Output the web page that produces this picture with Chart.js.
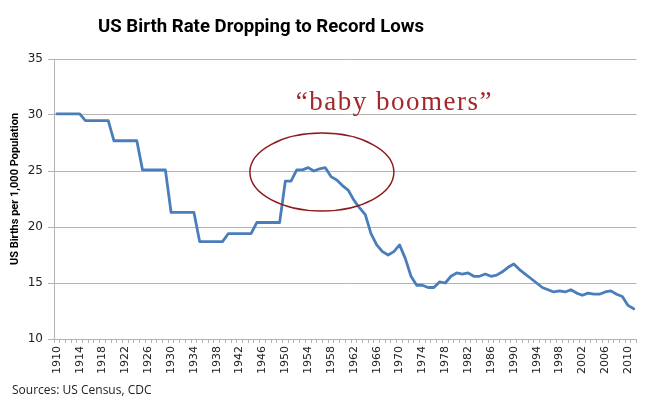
<!DOCTYPE html>
<html lang="en">
<head>
<meta charset="UTF-8">
<title>US Birth Rate Dropping to Record Lows</title>
<script src="https://cdn.jsdelivr.net/npm/chart.js"></script>
<style>
  body { margin: 0; background: #fff; }
  canvas { display: block; }
</style>
</head>
<body>
<canvas id="births" width="650" height="404"></canvas>
<script>
const years = [
  1910, 1911, 1912, 1913, 1914, 1915, 1916, 1917, 1918, 1919,
  1920, 1921, 1922, 1923, 1924, 1925, 1926, 1927, 1928, 1929,
  1930, 1931, 1932, 1933, 1934, 1935, 1936, 1937, 1938, 1939,
  1940, 1941, 1942, 1943, 1944, 1945, 1946, 1947, 1948, 1949,
  1950, 1951, 1952, 1953, 1954, 1955, 1956, 1957, 1958, 1959,
  1960, 1961, 1962, 1963, 1964, 1965, 1966, 1967, 1968, 1969,
  1970, 1971, 1972, 1973, 1974, 1975, 1976, 1977, 1978, 1979,
  1980, 1981, 1982, 1983, 1984, 1985, 1986, 1987, 1988, 1989,
  1990, 1991, 1992, 1993, 1994, 1995, 1996, 1997, 1998, 1999,
  2000, 2001, 2002, 2003, 2004, 2005, 2006, 2007, 2008, 2009,
  2010, 2011
];

// births per 1,000 population
const birthRates = [
  30.1, 30.1, 30.1, 30.1, 30.1, 29.5, 29.5, 29.5, 29.5, 29.5,
  27.7, 27.7, 27.7, 27.7, 27.7, 25.1, 25.1, 25.1, 25.1, 25.1,
  21.3, 21.3, 21.3, 21.3, 21.3, 18.7, 18.7, 18.7, 18.7, 18.7,
  19.4, 19.4, 19.4, 19.4, 19.4, 20.4, 20.4, 20.4, 20.4, 20.4,
  24.1, 24.1, 25.1, 25.1, 25.3, 25.0, 25.2, 25.3, 24.5, 24.2,
  23.7, 23.3, 22.4, 21.7, 21.1, 19.4, 18.4, 17.8, 17.5, 17.8,
  18.4, 17.2, 15.6, 14.8, 14.8, 14.6, 14.6, 15.1, 15.0, 15.6,
  15.9, 15.8, 15.9, 15.6, 15.6, 15.8, 15.6, 15.7, 16.0, 16.4,
  16.7, 16.2, 15.8, 15.4, 15.0, 14.6, 14.4, 14.2, 14.3, 14.2,
  14.4, 14.1, 13.9, 14.1, 14.0, 14.0, 14.2, 14.3, 14.0, 13.8,
  13.0, 12.7
];

const xTickLabels = [
  1910, 1914, 1918, 1922, 1926, 1930, 1934, 1938, 1942, 1946, 1950, 1954, 1958,
  1962, 1966, 1970, 1974, 1978, 1982, 1986, 1990, 1994, 1998, 2002, 2006, 2010
];
const yTickValues = [10, 15, 20, 25, 30, 35];

const titleText = "US Birth Rate Dropping to Record Lows";
const yAxisTitle = "US Births per 1,000 Population";
const sourceText = "Sources: US Census, CDC";
const boomerLabel = "\u201Cbaby boomers\u201D";

// where the annotation sits, in chart units (year, rate)
const boomerCircleAt = { year: 1956.4, value: 24.9 };
const boomerLabelAt = { year: 1969.1, value: 30.45 };

const gridGray = "#b3b3b3";

const annotations = {
    id: "annotations",
    afterDatasetsDraw(chart) {
        const { ctx, scales: { x, y } } = chart;
        const slot = x.getPixelForValue(1) - x.getPixelForValue(0);
        const xAt = yr => x.getPixelForValue(0) + (yr - years[0]) * slot;

        ctx.save();
        // circle round the boom years
        ctx.strokeStyle = "#8e1b1e";
        ctx.lineWidth = 1.5;
        ctx.beginPath();
        ctx.ellipse(xAt(boomerCircleAt.year), y.getPixelForValue(boomerCircleAt.value), 72, 39, 0, 0, Math.PI * 2);
        ctx.stroke();

        ctx.fillStyle = "#a3282b";
        ctx.font = "27px 'Liberation Serif'";
        ctx.letterSpacing = "1.5px";
        ctx.textAlign = "center";
        ctx.textBaseline = "alphabetic";
        ctx.fillText(boomerLabel, xAt(boomerLabelAt.year), y.getPixelForValue(boomerLabelAt.value));
        ctx.restore();
    },
    afterDraw(chart) {
        const { ctx } = chart;
        ctx.save();
        ctx.fillStyle = "#000";
        ctx.textBaseline = "middle";

        ctx.font = "bold 18.6px Roboto";
        ctx.textAlign = "center";
        ctx.fillText(titleText, 261, 27);

        ctx.translate(15, 189);
        ctx.rotate(-Math.PI / 2);
        ctx.font = "bold 11px Roboto";
        ctx.fillText(yAxisTitle, 0, 0);
        ctx.setTransform(1, 0, 0, 1, 0, 0);

        ctx.font = "12px 'Open Sans'";
        ctx.textAlign = "left";
        ctx.fillStyle = "#222";
        ctx.fillText(sourceText, 12, 391);
        ctx.restore();
    }
};

const ctx = document.getElementById("births").getContext("2d");
const chart = new Chart(ctx, {
    type: "line",
    data: {
        labels: years,
        datasets: [{
            label: "Birth rate",
            data: birthRates,
            borderColor: "#4a7ebb",
            borderWidth: 2.8,
            pointRadius: 0,
            tension: 0,
            borderJoinStyle: "round",
            borderCapStyle: "round",
            fill: false
        }]
    },
    options: {
        responsive: false,
        animation: false,
        layout: { padding: { top: 59, right: 12, bottom: 0, left: 0 } },
        plugins: {
            legend: { display: false },
            tooltip: { enabled: false },
            title: { display: false }
        },
        scales: {
            x: {
                type: "category",
                offset: true,
                grid: {
                    offset: true,
                    drawOnChartArea: false,
                    drawTicks: true,
                    tickLength: 4,
                    color: gridGray
                },
                border: { color: gridGray, width: 1 },
                ticks: {
                    autoSkip: false,
                    minRotation: 90,
                    maxRotation: 90,
                    padding: 3,
                    color: "#222",
                    font: { family: "DejaVu Sans", size: 11 },
                    callback: (val, i) => xTickLabels.includes(years[i]) ? String(years[i]) : ""
                },
                afterFit: scale => { scale.height = 65; }
            },
            y: {
                min: 10,
                max: 35,
                afterBuildTicks: scale => { scale.ticks = yTickValues.map(v => ({ value: v })); },
                grid: {
                    color: gridGray,
                    tickLength: 6,
                    lineWidth: 1
                },
                border: { color: gridGray, width: 1 },
                ticks: {
                    padding: 5,
                    color: "#222",
                    font: { family: "DejaVu Sans", size: 12 }
                },
                afterFit: scale => { scale.width = 54; }
            }
        }
    },
    plugins: [annotations]
});
</script>
</body>
</html>
